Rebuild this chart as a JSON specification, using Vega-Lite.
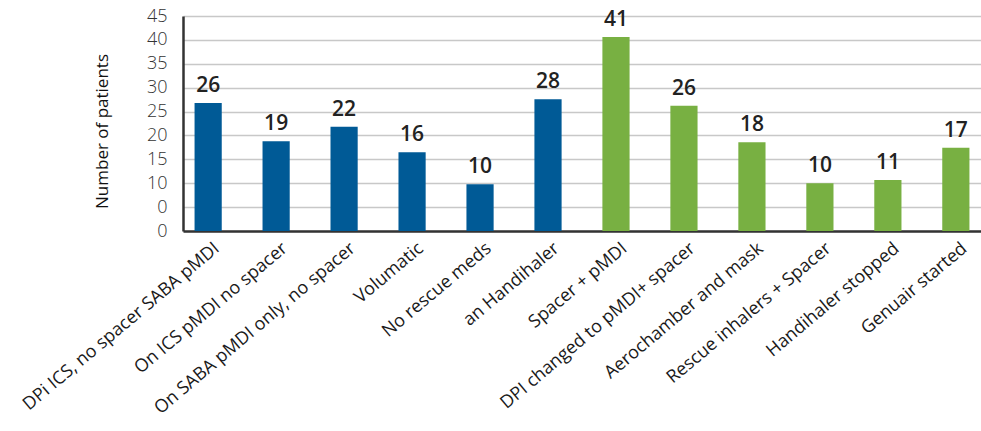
{
  "$schema": "https://vega.github.io/schema/vega-lite/v6.json",
  "width": 798,
  "height": 215,
  "autosize": "none",
  "padding": {"left": 183, "top": 16, "right": 0, "bottom": 200},
  "background": "white",
  "config": {
    "view": {"stroke": null},
    "font": "Open Sans"
  },
  "data": {
    "values": [
      {"category": "DPi ICS, no spacer SABA pMDI", "group": "before", "height": 26.8, "label": "26"},
      {"category": "On ICS pMDI no spacer", "group": "before", "height": 18.8, "label": "19"},
      {"category": "On SABA pMDI only, no spacer", "group": "before", "height": 21.8, "label": "22"},
      {"category": "Volumatic", "group": "before", "height": 16.5, "label": "16"},
      {"category": "No rescue meds", "group": "before", "height": 9.8, "label": "10"},
      {"category": "an Handihaler", "group": "before", "height": 27.6, "label": "28"},
      {"category": "Spacer + pMDI", "group": "after", "height": 40.6, "label": "41"},
      {"category": "DPI changed to pMDI+ spacer", "group": "after", "height": 26.2, "label": "26"},
      {"category": "Aerochamber and mask", "group": "after", "height": 18.6, "label": "18"},
      {"category": "Rescue inhalers + Spacer", "group": "after", "height": 10.0, "label": "10"},
      {"category": "Handihaler stopped", "group": "after", "height": 10.7, "label": "11"},
      {"category": "Genuair started", "group": "after", "height": 17.4, "label": "17"}
    ]
  },
  "encoding": {
    "x": {
      "field": "category",
      "type": "nominal",
      "sort": null,
      "scale": {"paddingInner": 0.6, "paddingOuter": 0.17},
      "axis": {
        "title": null,
        "labelAngle": -40,
        "labelAlign": "right",
        "labelBaseline": "middle",
        "labelFontSize": 18,
        "labelColor": "#1a1a1a",
        "labelPadding": 15,
        "labelOffset": 9,
        "labelLimit": 400,
        "ticks": false,
        "domainColor": "#333333",
        "domainWidth": 2.5,
        "grid": false
      }
    },
    "y": {
      "field": "height",
      "type": "quantitative",
      "scale": {"domain": [0, 45], "nice": false},
      "axis": {
        "title": "Number of patients",
        "titleFontSize": 17,
        "titleFontWeight": "normal",
        "titleColor": "#111111",
        "titleAngle": -90,
        "titleBaseline": "middle",
        "titleX": -81,
        "titleY": 115,
        "values": [0, 5, 10, 15, 20, 25, 30, 35, 40, 45],
        "labelExpr": "datum.value == 5 ? '0' : datum.label",
        "labelFontSize": 18,
        "labelFontWeight": 300,
        "labelColor": "#333333",
        "labelPadding": 16,
        "ticks": false,
        "domainColor": "#333333",
        "domainWidth": 2.5,
        "grid": true,
        "gridColor": "#c8c8c8",
        "gridWidth": 1.5
      }
    }
  },
  "layer": [
    {
      "mark": {"type": "bar"},
      "encoding": {
        "color": {
          "field": "group",
          "type": "nominal",
          "scale": {"domain": ["before", "after"], "range": ["#005a96", "#78b042"]},
          "legend": null
        }
      }
    },
    {
      "mark": {"type": "text", "dy": -11, "baseline": "alphabetic", "fontSize": 21, "fontWeight": 600, "color": "#222222"},
      "encoding": {
        "text": {"field": "label", "type": "nominal"}
      }
    }
  ]
}
